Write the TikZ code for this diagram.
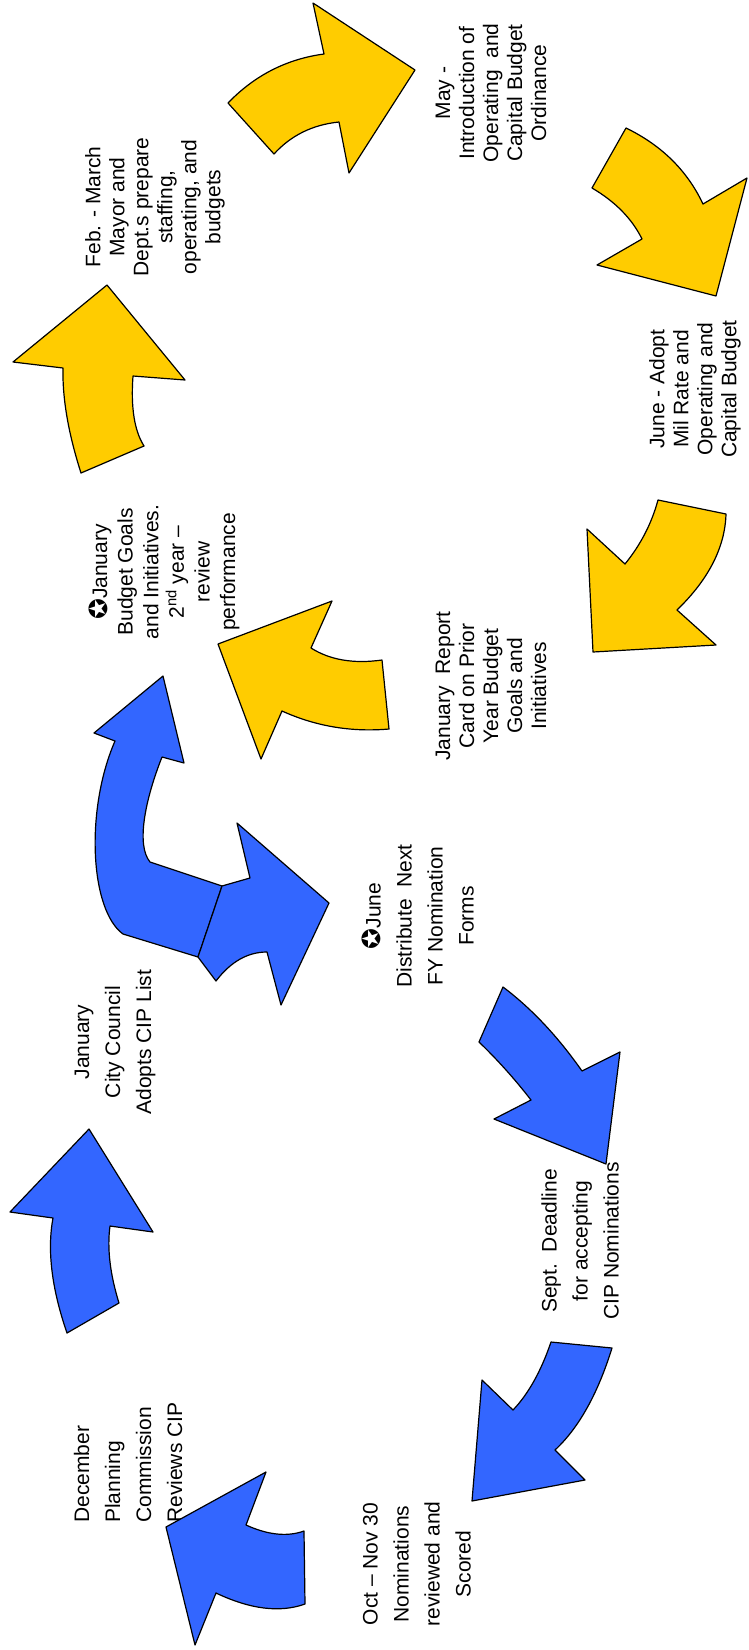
\documentclass[tikz,border=0pt]{standalone}
\usepackage{fontspec}
\setmainfont{Liberation Sans}
\newfontfamily\starsym{DejaVu Sans}

\definecolor{capyellow}{HTML}{FFCC00}
\definecolor{cipblue}{HTML}{3366FF}

\newcommand{\cstar}{{\starsym\fontsize{25}{25}\selectfont ✪}}

\tikzset{
    yarrow/.style={fill=capyellow, draw=black, line width=1.2pt, line join=round},
    barrow/.style={fill=cipblue, draw=black, line width=1.2pt, line join=round},
    ylbl/.style={rotate=90, align=center, inner sep=0pt, font=\fontsize{21}{24}\selectfont},
    blbl/.style={rotate=90, align=center, inner sep=0pt, font=\fontsize{21}{31}\selectfont}
}

\begin{document}
\begin{tikzpicture}[x=1pt, y=-1pt]
    \useasboundingbox (0,0) rectangle (748,1650);

    % operating budget cycle
    \node[ylbl] (feb) at (155,207) {Feb. - March\\Mayor and\\Dept.s prepare\\staffing,\\operating, and\\budgets};
    \node[ylbl] (may) at (491,93) {May -\\Introduction of\\Operating\ \ and\\Capital Budget\\Ordinance};
    \node[ylbl] (juneadopt) at (695,389) {June - Adopt\\Mil Rate and\\Operating and\\Capital Budget};
    \node[ylbl, font=\fontsize{21}{25.6}\selectfont] (janbudget) at (164,572) {\cstar January\\Budget Goals\\and Initiatives.\\2\textsuperscript{nd} year –\\review\\performance};
    \node[ylbl] (janreport) at (491,686) {January\ \ Report\\Card on Prior\\Year Budget\\Goals and\\Initiatives};

    % CIP cycle
    \node[blbl] (junedist) at (418,916) {\cstar June\\Distribute\ \ Next\\FY Nomination\\Forms};
    \node[blbl] (jancity) at (115,1042) {January\\City Council\\Adopts CIP List};
    \node[blbl] (sept) at (580,1241) {Sept.\ \ Deadline\\for accepting\\CIP Nominations};
    \node[blbl] (octnov) at (417,1564) {Oct – Nov 30\\Nominations\\reviewed and\\Scored};
    \node[blbl, anchor=west, align=left] (dec) at (128,1523) {December\\Planning\\Commission\\Reviews CIP};

    % yellow arrows
    \draw[yarrow] (107,285) -- (13,362) -- (63,368) .. controls (62.3,398.3) and (68.3,433.3) .. (81,473)
        -- (144,446) .. controls (134.3,430.7) and (130.7,407.3) .. (133,376) -- (185,380) -- cycle;
    \draw[yarrow] (415,70) -- (313,3) -- (324,54) .. controls (286.7,59) and (254.7,75.3) .. (228,103)
        -- (274,154) .. controls (291,135.3) and (312.7,124.7) .. (339,122) -- (349,173) -- cycle;
    \draw[yarrow] (626,128) .. controls (661.7,145.3) and (687.3,170.7) .. (703,204) -- (747,178) -- (716,296)
        -- (597,265) -- (642,239) .. controls (632,218.7) and (615.3,201.7) .. (592,188) -- cycle;
    \draw[yarrow] (658,500) -- (726,514) .. controls (725,547.3) and (708.7,579.3) .. (677,610) -- (716,645)
        -- (593,652) -- (587,529) -- (625,564) .. controls (640.7,544.7) and (651.7,523.3) .. (658,500) -- cycle;
    \draw[yarrow] (218,644) -- (332,601) -- (311,648) .. controls (330,660) and (353.7,664) .. (382,660)
        -- (389,729) .. controls (351.3,732.3) and (315.7,726.3) .. (282,711) -- (261,759) -- cycle;

    % blue arrows
    \draw[barrow] (163,676) -- (184,763) -- (162,757) .. controls (145,800) and (136,845) .. (150,862)
        -- (222,886) -- (198,957) -- (123,934) .. controls (90,910) and (85,810) .. (115,741)
        -- (94,733) -- cycle;
    \draw[barrow] (222,886) -- (250,878) -- (237,823) -- (329,903) -- (281,1005) -- (267,952)
        .. controls (247.7,952) and (230.7,961.7) .. (216,981) -- (198,957) -- cycle;
    \draw[barrow] (503,987) .. controls (531.3,1008.3) and (557.7,1036.3) .. (582,1071) -- (620,1052) -- (606,1164)
        -- (494,1119) -- (531,1100) .. controls (515,1079.3) and (497.7,1060) .. (479,1042) -- cycle;
    \draw[barrow] (551,1342) -- (612,1348) .. controls (597.7,1394) and (578.7,1428) .. (555,1450) -- (585,1480)
        -- (472,1501) -- (482,1380) -- (513,1410) .. controls (528.3,1394) and (541,1371.3) .. (551,1342) -- cycle;
    \draw[barrow] (166,1527) -- (266,1472) -- (246,1525) .. controls (268,1535) and (287.3,1537) .. (304,1531)
        -- (305,1604) .. controls (280,1613) and (250.3,1609.3) .. (216,1593) -- (195,1645) -- cycle;
    \draw[barrow] (89,1129) -- (10,1212) -- (53,1218) .. controls (47,1250.3) and (51.7,1288.7) .. (67,1333)
        -- (119,1303) .. controls (110,1274) and (107,1248.3) .. (110,1226) -- (153,1232) -- cycle;
\end{tikzpicture}
\end{document}
